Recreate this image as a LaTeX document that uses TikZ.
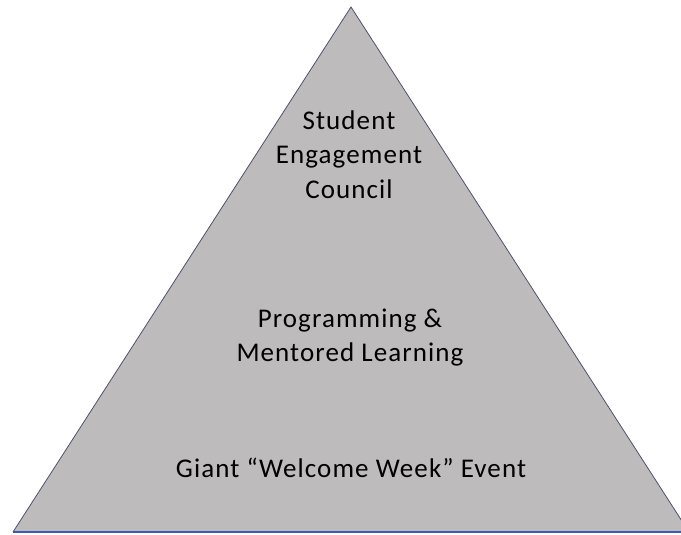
\documentclass[tikz,border=0pt]{standalone}
\usepackage{fontspec}
\setmainfont{Carlito}[LetterSpace=4]
\definecolor{pyrfill}{RGB}{189,187,187}
\definecolor{pyredge}{RGB}{80,80,110}
\definecolor{baseblue}{RGB}{60,90,180}
\tikzset{
  lbl/.style={font=\fontsize{27}{34}\selectfont, text=black, inner sep=0pt, anchor=base},
}
\begin{document}
\begin{tikzpicture}[x=1pt,y=-1pt]
\useasboundingbox (0,0) rectangle (681,535);
\coordinate (apex) at (351,7);
\coordinate (bl) at (13,532);
\coordinate (br) at (689,532);
\begin{scope}
\clip (0,0) rectangle (681,535);
\fill[pyrfill] (apex) -- (bl) -- (br) -- cycle;
\draw[pyredge, line width=0.8pt] (bl) -- (apex) -- (br);
\draw[baseblue, line width=2pt] (bl) -- (br);
\end{scope}
\node[lbl] (t1) at (349,129) {Student};
\node[lbl] (t2) at (349,164) {Engagement};
\node[lbl] (t3) at (349,198) {Council};
\node[lbl] (m1) at (350,327) {Programming \&};
\node[lbl] (m2) at (350,361) {Mentored Learning};
\node[lbl] (b1) at (351,477) {Giant “Welcome Week” Event};
\end{tikzpicture}
\end{document}
